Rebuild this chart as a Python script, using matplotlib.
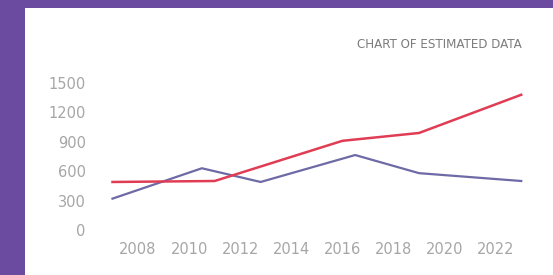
import matplotlib
matplotlib.use("Agg")
import matplotlib.pyplot as plt
from matplotlib.patches import Rectangle

# values
red_years = [2007, 2011, 2016, 2019, 2023]
red_values = [490, 500, 910, 990, 1380]
blue_years = [2007, 2010.5, 2012.8, 2016.5, 2019, 2023]
blue_values = [320, 630, 490, 765, 580, 500]

x_ticks = [2008, 2010, 2012, 2014, 2016, 2018, 2020, 2022]
y_ticks = [0, 300, 600, 900, 1200, 1500]
title = "CHART OF ESTIMATED DATA"

W, H = 553, 275
fig = plt.figure(figsize=(W / 100, H / 100), dpi=100, facecolor="#6a4b9f")

# white card on the purple background
fig.patches.append(Rectangle((25 / W, 0), 1, (H - 8) / H, transform=fig.transFigure,
                             facecolor="white", edgecolor="none", zorder=-5))

# axes placed in pixels: left, bottom, width, height
left = 99.7
right = 534
ax = fig.add_axes([left / W, 45 / H, (right - left) / W, 147 / H])
ax.set_facecolor("none")

ax.plot(blue_years, blue_values, color="#6d6aa6", lw=1.6, clip_on=False, solid_joinstyle="round")
ax.plot(red_years, red_values, color="#e03d55", lw=1.8, clip_on=False, solid_joinstyle="round")

ax.set_xlim(2006.5, 2023.5)
ax.set_ylim(0, 1500)
ax.set_xticks(x_ticks)
ax.set_yticks(y_ticks)
ax.tick_params(length=0, labelsize=10.5, labelcolor="#a6a6a6")
ax.tick_params(axis="y", pad=10)
ax.tick_params(axis="x", pad=9)
for s in ax.spines.values():
    s.set_visible(False)

fig.text(522 / W, 1 - 45 / H, title, ha="right", va="center", fontsize=9.5,
         color="#7c7c7c", fontstretch="condensed")

fig.savefig("out.png", dpi=100, facecolor=fig.get_facecolor())
